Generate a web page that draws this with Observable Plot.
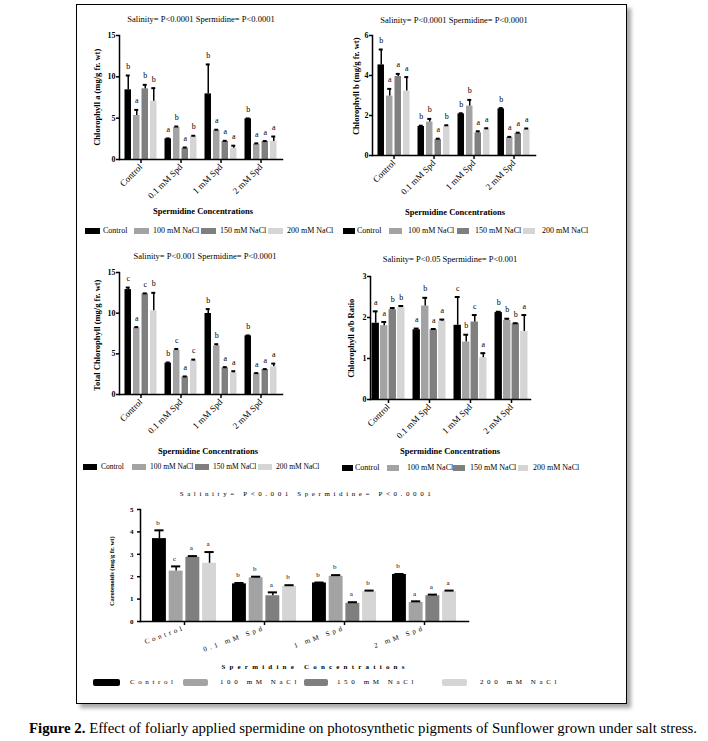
<!DOCTYPE html>
<html><head><meta charset="utf-8">
<script src="https://cdn.jsdelivr.net/npm/d3@7"></script>
<script src="https://cdn.jsdelivr.net/npm/@observablehq/plot@0.6"></script>
<style>
body{margin:0;background:#fff;width:708px;height:741px;position:relative;overflow:hidden;font-family:"Liberation Serif","Times New Roman",serif;color:#000;}
#frame{position:absolute;left:76px;top:4px;width:549px;height:698px;border:1px solid #000;box-shadow:4px 4px 4px rgba(0,0,0,0.35);background:#fff;}
.abs{position:absolute;white-space:nowrap;line-height:1;}
.panel{position:absolute;}
.panel svg{overflow:visible;}
</style></head><body>
<div id="frame"></div>
<div id="root"></div>
<div class="abs" id="caption" style="left:29px;top:721px;font-size:14.8px;"><b>Figure 2.</b> Effect of foliarly applied spermidine on photosynthetic pigments of Sunflower grown under salt stress.</div>
<script>
const groups = ["Control", "0.1 mM Spd", "1 mM Spd", "2 mM Spd"];
const series = ["Control", "100 mM NaCl", "150 mM NaCl", "200 mM NaCl"];
const colors = ["#000000", "#a3a3a6", "#7f7f7f", "#d5d5d5"];

// Chlorophyll a (mg/g fr. wt) — rows: groups, cols: series
const chlA = [[8.43, 5.32, 8.55, 7.06], [2.5, 3.87, 1.37, 2.82], [7.94, 3.5, 2.18, 1.37], [4.92, 1.85, 2.18, 2.18]];
const chlAErr = [[1.73, 0.68, 0.48, 1.57], [0.05, 0.12, 0.08, 0.05], [3.56, 0.1, 0.08, 0.3], [0.05, 0.1, 0.05, 0.6]];
const chlALetters = [["b", "a", "b", "b"], ["a", "b", "a", "b"], ["b", "a", "a", "a"], ["b", "a", "a", "a"]];
const chlATicks = [0, 5, 10, 15];

// Chlorophyll b
const chlB = [[4.53, 2.97, 3.95, 3.22], [1.45, 1.67, 0.8, 1.47], [2.08, 2.47, 1.13, 1.32], [2.33, 0.9, 1.1, 1.3]];
const chlBErr = [[0.77, 0.36, 0.13, 0.7], [0.04, 0.16, 0.04, 0.04], [0.03, 0.31, 0.08, 0.04], [0.04, 0.03, 0.04, 0.05]];
const chlBLetters = [["b", "a", "a", "a"], ["b", "b", "a", "b"], ["b", "b", "a", "a"], ["b", "a", "a", "a"]];
const chlBTicks = [0, 2, 4, 6];

// Total chlorophyll
const totChl = [[12.9, 8.2, 12.38, 10.29], [3.85, 5.45, 2.17, 4.14], [9.96, 5.98, 3.28, 2.66], [7.21, 2.58, 3.07, 3.4]];
const totChlErr = [[0.25, 0.08, 0.05, 2.21], [0.08, 0.15, 0.05, 0.15], [0.54, 0.2, 0.08, 0.2], [0.05, 0.05, 0.05, 0.4]];
const totChlLetters = [["c", "a", "c", "b"], ["b", "c", "a", "c"], ["b", "b", "a", "a"], ["b", "a", "a", "a"]];
const totChlTicks = [0, 5, 10, 15];

// Chlorophyll a/b ratio
const ratio = [[1.86, 1.8, 2.19, 2.24], [1.7, 2.28, 1.7, 1.91], [1.81, 1.4, 1.89, 1.02], [2.12, 1.93, 1.85, 1.66]];
const ratioErr = [[0.29, 0.09, 0.04, 0.04], [0.03, 0.2, 0.02, 0.04], [0.69, 0.18, 0.17, 0.11], [0.02, 0.04, 0.01, 0.4]];
const ratioLetters = [["a", "a", "b", "b"], ["a", "b", "a", "a"], ["c", "b", "c", "a"], ["b", "b", "b", "a"]];
const ratioTicks = [0, 1, 2, 3];

// Carotenoids
const carot = [[3.7, 2.25, 2.87, 2.6], [1.68, 1.95, 1.15, 1.57], [1.72, 2.02, 0.81, 1.33], [2.1, 0.85, 1.15, 1.33]];
const carotErr = [[0.37, 0.21, 0.05, 0.5], [0.04, 0.05, 0.15, 0.05], [0.02, 0.05, 0.05, 0.05], [0.02, 0.05, 0.05, 0.05]];
const carotLetters = [["b", "c", "a", "a"], ["b", "b", "a", "b"], ["b", "b", "a", "b"], ["b", "a", "a", "a"]];
const carotTicks = [0, 1, 2, 3, 4, 5];

const xTitle = "Spermidine Concentrations";

const root = document.getElementById("root");
function addText(txt, css) {
  const d = document.createElement("div");
  d.className = "abs";
  d.textContent = txt;
  Object.assign(d.style, css);
  root.appendChild(d);
  return d;
}
function centerAt(el, cx, cy) {
  const r = el.getBoundingClientRect();
  el.style.left = (cx - r.width / 2) + "px";
  el.style.top = (cy - r.height / 2) + "px";
}

function panel(cfg) {
  const rows = [];
  groups.forEach((g, gi) => series.forEach((s, si) => rows.push({
    group: g, series: s, si, value: cfg.data[gi][si], err: cfg.errs[gi][si], letter: cfg.letters[gi][si]
  })));
  const L = cfg.box;
  const marginLeft = cfg.x0 - L.left, marginRight = L.left + L.width - cfg.x1;
  const marginTop = cfg.yTop - L.top, marginBottom = L.top + L.height - cfg.y0;
  const n = groups.length;
  const step = (cfg.x1 - cfg.x0) / (n - cfg.pi + 2 * cfg.po);
  const bw = step * (1 - cfg.pi);
  const sub = bw / 4;
  const marks = [];
  series.forEach((s, si) => {
    const d = rows.filter(r => r.si === si);
    const off = (si - 1.5) * sub;
    marks.push(Plot.barY(d, {x: "group", y: "value", fill: colors[si],
      insetLeft: si * sub + cfg.gap / 2, insetRight: (3 - si) * sub + cfg.gap / 2}));
    marks.push(Plot.ruleX(d, {x: "group", y1: "value", y2: r => r.value + r.err, dx: off, stroke: "#000", strokeWidth: 1.5}));
    marks.push(Plot.tickY(d, {x: "group", y: r => r.value + r.err, dx: off,
      insetLeft: bw / 2 - cfg.cap / 2, insetRight: bw / 2 - cfg.cap / 2, stroke: "#000", strokeWidth: 2}));
    marks.push(Plot.text(d, {x: "group", y: r => r.value + r.err, text: "letter", dx: off, dy: -cfg.letterDy,
      fontSize: cfg.letterSize, fontWeight: "normal", fill: "#000"}));
  });
  marks.push(Plot.frame({anchor: "left", stroke: "#000", strokeWidth: 1.5}));
  marks.push(Plot.frame({anchor: "bottom", stroke: "#000", strokeWidth: 1.5}));
  marks.push(Plot.axisY({ticks: cfg.ticks, tickFormat: d => String(d), tickSize: 3, tickPadding: 1, label: null,
    fontWeight: "bold", fontSize: cfg.yTickSize, strokeWidth: 1.5, fill: "#000"}));
  marks.push(Plot.axisX({tickSize: 4, tickPadding: 2, tickRotate: cfg.rotate, label: null, fontSize: cfg.xTickSize,
    strokeWidth: 1.5, fill: "#000"}));
  const chart = Plot.plot({
    width: L.width, height: L.height,
    marginLeft, marginRight, marginTop, marginBottom,
    style: Object.assign({fontFamily: "'Liberation Serif', 'Times New Roman', serif", background: "transparent", color: "#000", overflow: "visible"}, cfg.svgStyle || {}),
    x: {type: "band", domain: groups, paddingInner: cfg.pi, paddingOuter: cfg.po, axis: null},
    y: {domain: cfg.domain, axis: null},
    marks
  });
  const wrap = document.createElement("div");
  wrap.className = "panel";
  wrap.style.left = L.left + "px";
  wrap.style.top = L.top + "px";
  wrap.appendChild(chart);
  root.appendChild(wrap);

  const t = addText(cfg.title, Object.assign({fontSize: "8.5px"}, cfg.titleCss || {}));
  centerAt(t, cfg.titlePos[0], cfg.titlePos[1]);
  const xt = addText(xTitle, Object.assign({fontSize: "8.5px", fontWeight: "bold"}, cfg.xTitleCss || {}));
  centerAt(xt, cfg.xTitlePos[0], cfg.xTitlePos[1]);
  const yl = addText(cfg.yLabel, Object.assign({fontSize: "8.5px", fontWeight: "bold"}, cfg.yLabelCss || {}));
  centerAt(yl, cfg.yLabelPos[0], cfg.yLabelPos[1]);
  yl.style.transform = "rotate(-90deg)";
  series.forEach((s, si) => {
    const sw = document.createElement("div");
    sw.className = "abs";
    Object.assign(sw.style, {left: cfg.legend.sw[si][0] + "px", width: cfg.legend.sw[si][1] + "px",
      top: (cfg.legend.y - cfg.legend.h / 2) + "px", height: cfg.legend.h + "px", background: colors[si],
      borderRadius: (cfg.legend.radius || 0) + "px"});
    root.appendChild(sw);
    const lt = addText(s, Object.assign({fontSize: "8px"}, cfg.legend.css || {}));
    const r = lt.getBoundingClientRect();
    lt.style.left = cfg.legend.tx[si] + "px";
    lt.style.top = (cfg.legend.y - r.height / 2) + "px";
  });
}

const common = {pi: 0.17, gap: 1, cap: 5, letterDy: 9, letterSize: 8, yTickSize: 8, xTickSize: 9, rotate: -45};

panel(Object.assign({}, common, {
  data: chlA, errs: chlAErr, letters: chlALetters, ticks: chlATicks, domain: [0, 15],
  x0: 119, x1: 282, yTop: 35, y0: 159, po: 0.073,
  box: {left: 80, top: 25, width: 215, height: 190},
  title: "Salinity= P<0.0001   Spermidine= P<0.0001", titlePos: [201, 19],
  xTitlePos: [203, 211], yLabel: "Chlorophyll a (mg/g fr. wt)", yLabelPos: [98, 97],
  legend: {y: 231, h: 6, sw: [[85, 15], [134, 15], [201, 15], [268, 15]], tx: [103, 153, 220, 287]}
}));

panel(Object.assign({}, common, {
  data: chlB, errs: chlBErr, letters: chlBLetters, ticks: chlBTicks, domain: [0, 6],
  x0: 372, x1: 535, yTop: 35, y0: 155, po: 0.073,
  box: {left: 340, top: 25, width: 210, height: 190},
  title: "Salinity= P<0.0001   Spermidine= P<0.0001", titlePos: [454, 20],
  xTitlePos: [455, 212], yLabel: "Chlorophyll b (mg/g fr. wt)", yLabelPos: [356, 86],
  legend: {y: 231, h: 6, sw: [[343, 12], [389, 13], [457, 12], [523, 12]], tx: [357, 408, 475, 542]}
}));

panel(Object.assign({}, common, {
  data: totChl, errs: totChlErr, letters: totChlLetters, ticks: totChlTicks, domain: [0, 15],
  x0: 119, x1: 282, yTop: 272, y0: 394, po: 0.073,
  box: {left: 80, top: 262, width: 215, height: 188},
  title: "Salinity= P<0.001   Spermidine= P<0.0001", titlePos: [205, 256],
  xTitlePos: [208, 451], yLabel: "Total Chlorophyll (mg/g fr. wt)", yLabelPos: [98, 335],
  legend: {y: 467, h: 6, sw: [[83, 14], [132, 14], [195, 14], [258, 14]], tx: [101, 150, 213, 276], css: {fontSize: "7.5px"}}
}));

panel(Object.assign({}, common, {
  data: ratio, errs: ratioErr, letters: ratioLetters, ticks: ratioTicks, domain: [0, 3],
  x0: 370, x1: 530, yTop: 276, y0: 399, po: 0.03,
  box: {left: 340, top: 266, width: 210, height: 186},
  title: "Salinity= P<0.05   Spermidine= P<0.001", titlePos: [450, 259],
  xTitlePos: [450, 451], yLabel: "Chlorophyll a/b Ratio", yLabelPos: [352, 338],
  legend: {y: 468, h: 6, sw: [[342, 11], [387, 12], [453, 12], [518, 10]], tx: [355, 407, 470, 533]}
}));

panel(Object.assign({}, common, {
  data: carot, errs: carotErr, letters: carotLetters, ticks: carotTicks, domain: [0, 5],
  x0: 140, x1: 468, yTop: 509, y0: 621, pi: 0.173, po: 0.117, gap: 2, cap: 10, letterDy: 8, letterSize: 7,
  yTickSize: 7, xTickSize: 7, rotate: -20,
  svgStyle: {letterSpacing: "3px"},
  box: {left: 110, top: 499, width: 370, height: 160},
  title: "Salinity= P<0.001    Spermidine= P<0.0001", titlePos: [307, 494], titleCss: {fontSize: "7px", letterSpacing: "3.6px"},
  xTitlePos: [315, 667], xTitleCss: {fontSize: "7px", letterSpacing: "4.2px"},
  yLabel: "Carotenoids (mg/g fr. wt)", yLabelPos: [112, 571], yLabelCss: {fontSize: "6.5px"},
  legend: {y: 682, h: 7, radius: 2, sw: [[93, 27], [183, 25], [304, 24], [442, 25]], tx: [130, 220, 337, 480],
    css: {fontSize: "7px", letterSpacing: "3.6px"}}
}));
</script>
</body></html>
